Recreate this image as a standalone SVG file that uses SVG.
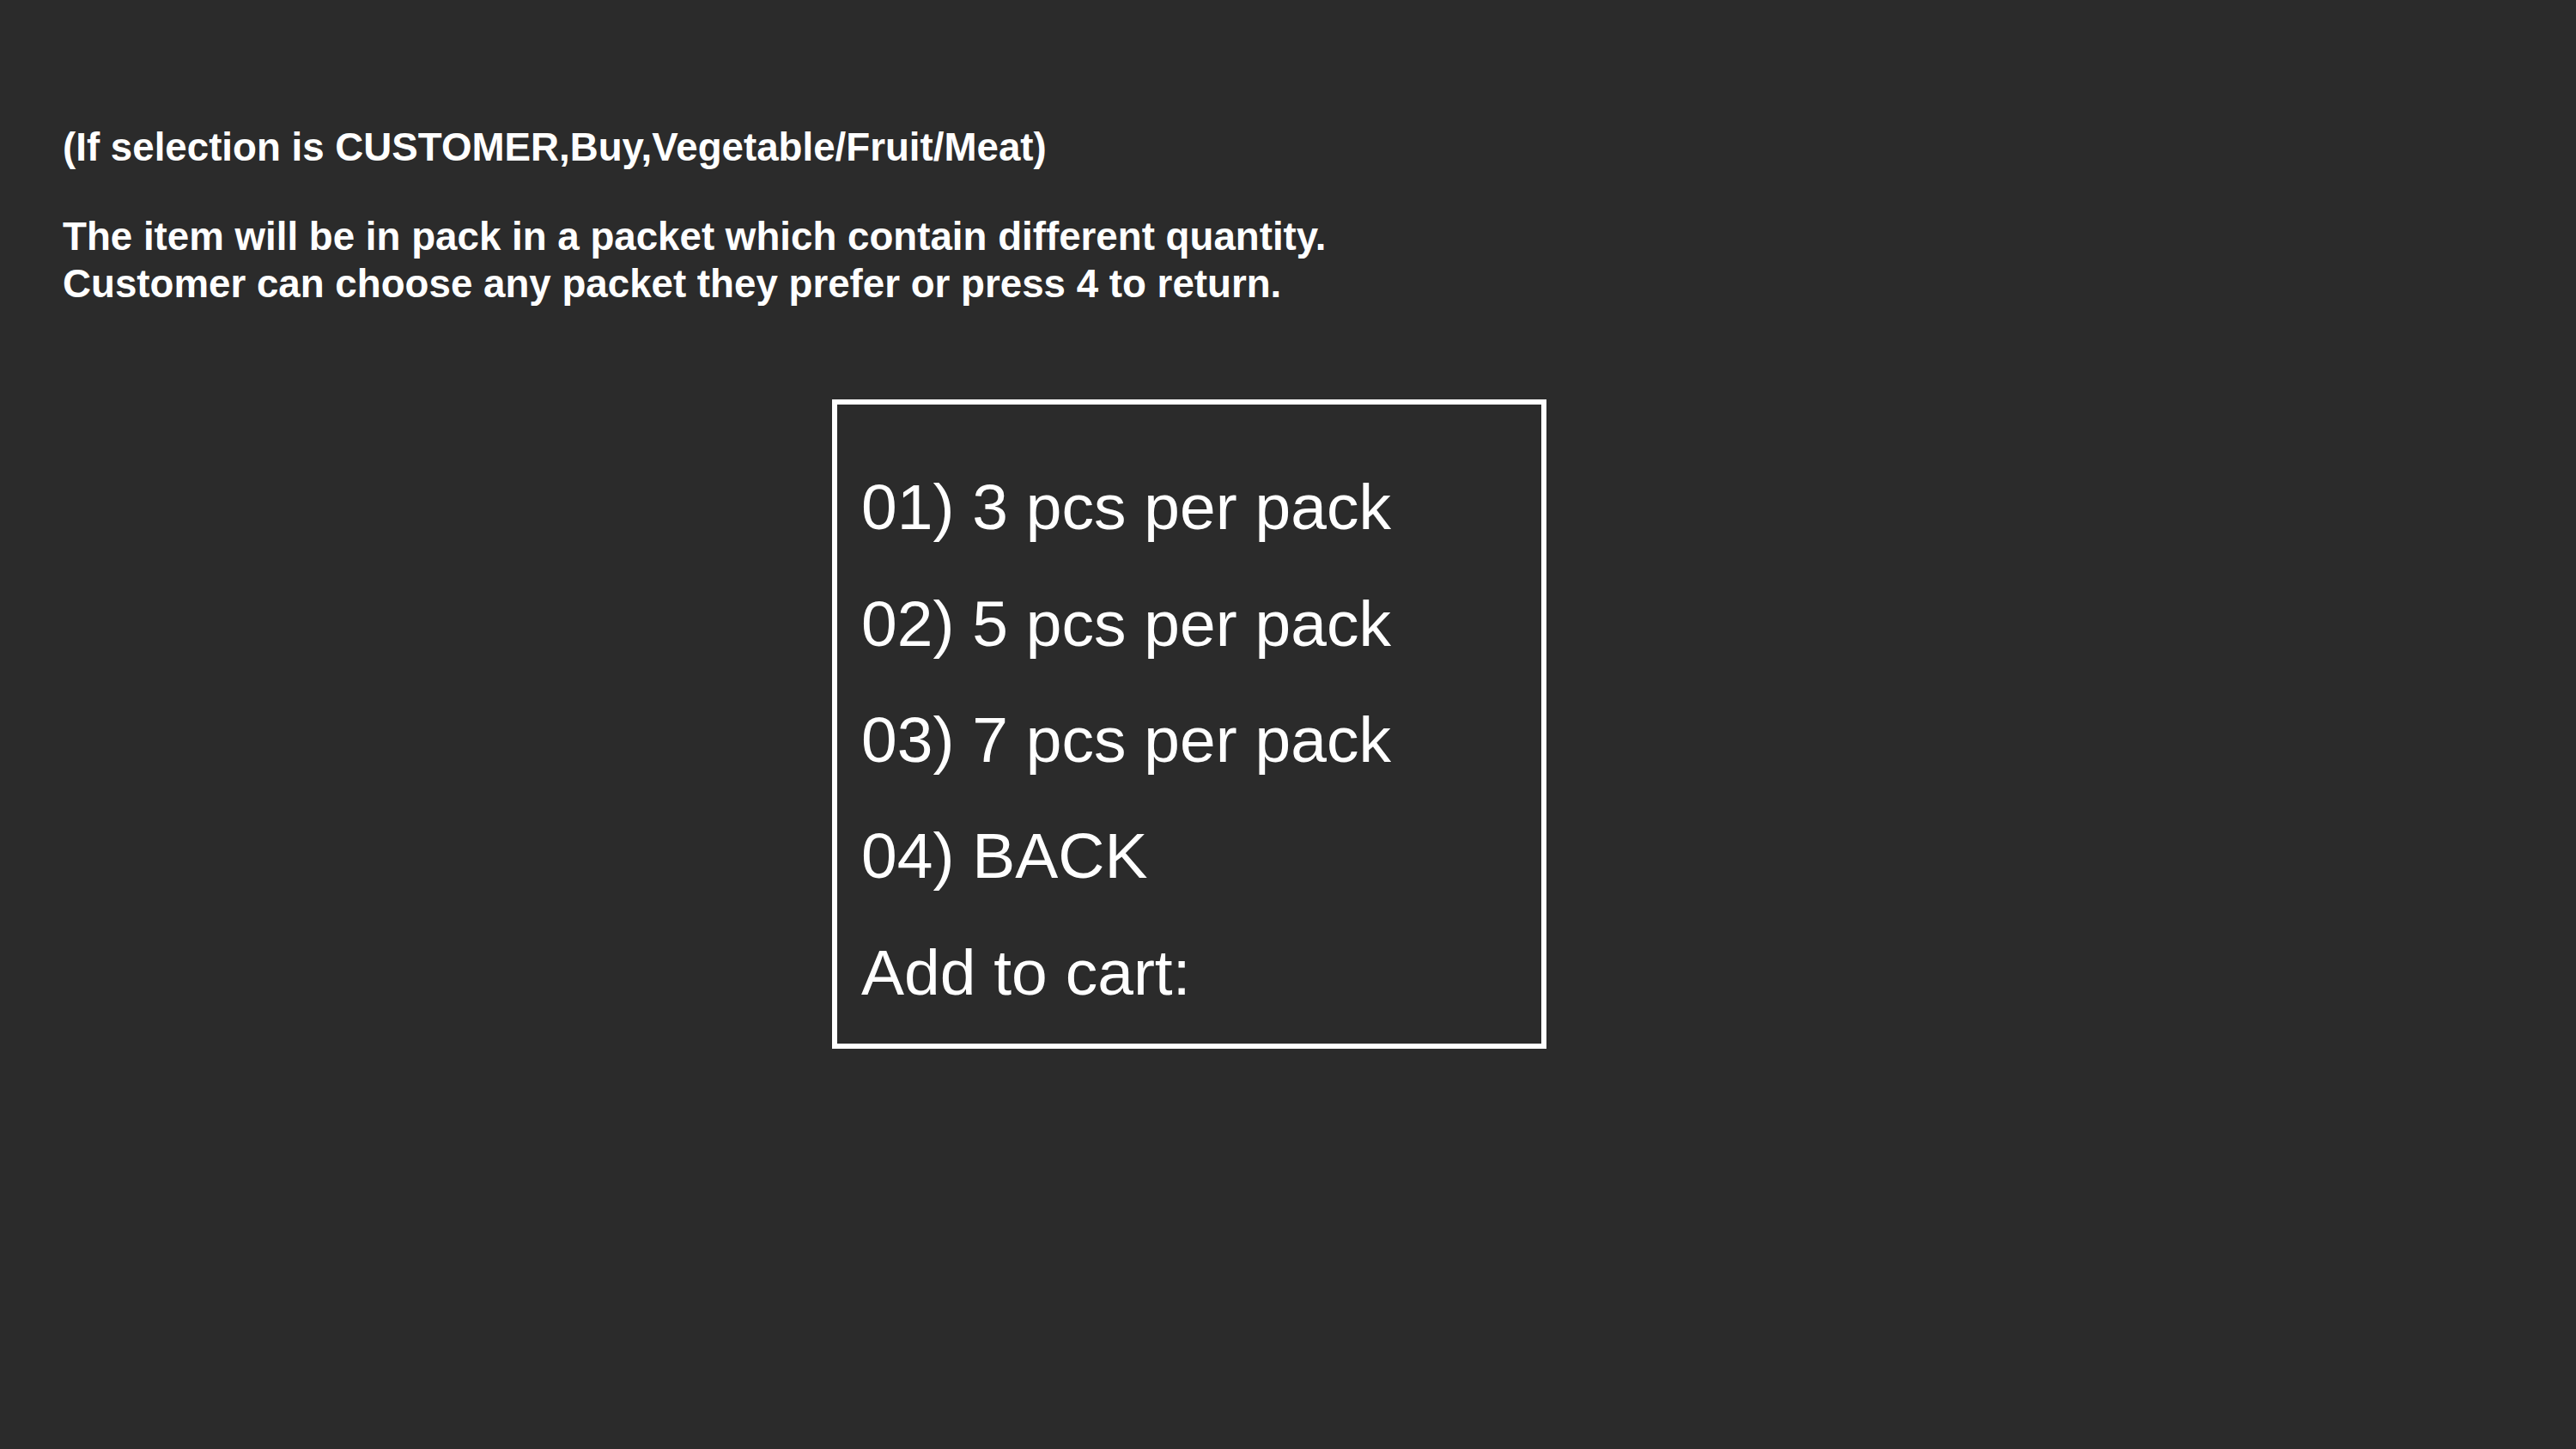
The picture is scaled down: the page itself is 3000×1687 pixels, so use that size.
<svg xmlns="http://www.w3.org/2000/svg" width="3000" height="1687" viewBox="0 0 3000 1687">
<style>
.hdr{font-family:"Liberation Sans",Arial,sans-serif;font-weight:bold;font-size:45.7px;fill:#ffffff}
.menu{font-family:"Liberation Sans",Arial,sans-serif;font-size:75px;fill:#ffffff}
.box{fill:none;stroke:#ffffff;stroke-width:6}
</style>
<rect x="0" y="0" width="3000" height="1687" fill="#2b2b2b"/>
<g id="header">
<text class="hdr" x="73" y="187">(If selection is CUSTOMER,Buy,Vegetable/Fruit/Meat)</text>
<text class="hdr" x="73" y="291">The item will be in pack in a packet which contain different quantity.</text>
<text class="hdr" x="73" y="346">Customer can choose any packet they prefer or press 4 to return.</text>
</g>
<g id="menu">
<rect class="box" x="972" y="468" width="826" height="750"/>
<text class="menu" x="1003" y="616">01) 3 pcs per pack</text>
<text class="menu" x="1003" y="752">02) 5 pcs per pack</text>
<text class="menu" x="1003" y="887">03) 7 pcs per pack</text>
<text class="menu" x="1003" y="1022">04) BACK</text>
<text class="menu" x="1003" y="1158">Add to cart:</text>
</g>
<g id="connectors"/>
</svg>
